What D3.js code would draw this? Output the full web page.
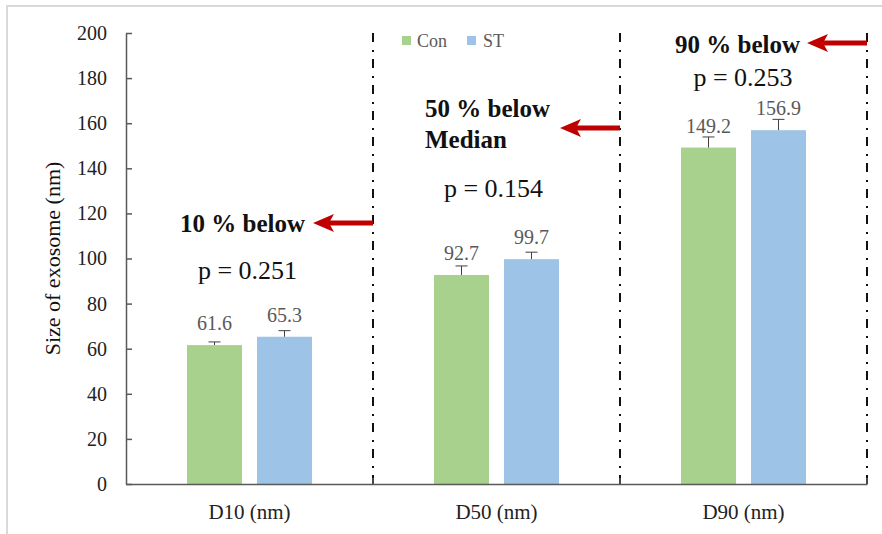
<!DOCTYPE html>
<html><head><meta charset="utf-8">
<script src="https://cdn.jsdelivr.net/npm/d3@7"></script>
<style>body{margin:0;background:#fff}svg{display:block}svg text{font-family:'Liberation Serif','Times New Roman',serif}</style>
</head><body>
<svg id="c" width="882" height="534"></svg>
<script>
const categories = ["D10 (nm)", "D50 (nm)", "D90 (nm)"];
const seriesNames = ["Con", "ST"];
const conValues = [61.6, 92.7, 149.2];
const stValues = [65.3, 99.7, 156.9];
const conErrors = [1.4, 4.0, 4.7];
const stErrors = [2.7, 3.1, 4.8];
const yTicks = [0, 20, 40, 60, 80, 100, 120, 140, 160, 180, 200];
const pValues = ["p = 0.251", "p = 0.154", "p = 0.253"];
const annotations = [["10 % below"], ["50 % below", "Median"], ["90 % below"]];

const colors = ["#a9d18e", "#9dc3e6"];
const svg = d3.select("#c");
const serif = "'Liberation Serif','Times New Roman',serif";

// frame
svg.append("path").attr("d", "M7,534 V6 H882").attr("fill", "none").attr("stroke", "#d9d9d9").attr("stroke-width", 2);

const L = 126, R = 867, T = 33, B = 484;
const y = d3.scaleLinear().domain([0, 200]).range([B, T]);
const x = d3.scaleBand().domain(categories).range([L, R]).paddingInner(0).paddingOuter(0);
const xs = d3.scaleBand().domain(seriesNames).range([61, 186]).paddingInner(0.214);

const g = svg.append("g");

// dividers
categories.forEach((c, i) => {
  const xv = x(c) + x.bandwidth();
  g.append("line").attr("x1", xv).attr("x2", xv).attr("y1", T).attr("y2", B)
    .attr("stroke", "#111").attr("stroke-width", 2).attr("stroke-dasharray", "9,8,2,7");
});

// bars
const series = [conValues, stValues];
const errs = [conErrors, stErrors];
series.forEach((vals, si) => {
  const sx = (c) => x(c) + xs(seriesNames[si]);
  g.selectAll(null).data(categories).enter().append("rect")
    .attr("x", c => sx(c)).attr("width", xs.bandwidth())
    .attr("y", (c, i) => y(vals[i])).attr("height", (c, i) => B - y(vals[i]))
    .attr("fill", colors[si]);
  categories.forEach((c, i) => {
    const cx = sx(c) + xs.bandwidth() / 2;
    const top = y(vals[i] + errs[si][i]);
    g.append("line").attr("x1", cx).attr("x2", cx).attr("y1", y(vals[i])).attr("y2", top).attr("stroke", "#404040").attr("stroke-width", 1);
    g.append("line").attr("x1", cx - 6).attr("x2", cx + 6).attr("y1", top).attr("y2", top).attr("stroke", "#404040").attr("stroke-width", 1);
    g.append("text").attr("x", cx).attr("y", y(vals[i]) - 15).attr("text-anchor", "middle")
      .style("font-family", serif).style("font-size", "20px").attr("fill", "#595959").text(vals[i].toFixed(1));
  });
});

// y axis
const yAxis = d3.axisLeft(y).tickValues(yTicks).tickSizeInner(-6).tickSizeOuter(0).tickPadding(19);
const ya = svg.append("g").attr("transform", `translate(${L},0)`).call(yAxis);
ya.select(".domain").attr("stroke", "#595959").attr("stroke-width", 1.5);
ya.selectAll(".tick line").attr("stroke", "#595959").attr("stroke-width", 1.5);
ya.selectAll(".tick text").style("font-family", serif).style("font-size", "20px").attr("fill", "#222");

// x axis
const xAxis = d3.axisBottom(x).tickSize(0).tickPadding(20);
const xa = svg.append("g").attr("transform", `translate(0,${B})`).call(xAxis);
xa.select(".domain").attr("stroke", "#595959").attr("stroke-width", 1.5);
xa.selectAll(".tick text").style("font-family", serif).style("font-size", "21px").attr("fill", "#222").attr("dy", "0.71em");
categories.forEach(c => {
  const xv = x(c) + x.bandwidth();
  svg.append("line").attr("x1", xv).attr("x2", xv).attr("y1", B).attr("y2", B - 6).attr("stroke", "#595959").attr("stroke-width", 1.5);
});

// y title
svg.append("text").attr("transform", `translate(60,${(T + B) / 2}) rotate(-90)`).attr("text-anchor", "middle")
  .style("font-family", serif).style("font-size", "22px").attr("fill", "#111").text("Size of exosome (nm)");

// legend
const leg = [[402, 417], [467, 483]];
seriesNames.forEach((s, i) => {
  svg.append("rect").attr("x", leg[i][0]).attr("y", 36).attr("width", 9).attr("height", 9).attr("fill", colors[i]);
  svg.append("text").attr("x", leg[i][1]).attr("y", 47).style("font-family", serif).style("font-size", "18px").attr("fill", "#595959").text(s);
});

// annotations
const annX = [180, 425, 675];
const annY = [232, 117, 53];
const pX = [247.5, 493.5, 743];
const pY = [279, 197, 86];
const arrow = [[313, 223], [560, 128], [807, 43]];
annotations.forEach((lines, i) => {
  lines.forEach((t, j) => {
    svg.append("text").attr("x", annX[i]).attr("y", annY[i] + j * 31).style("font-family", serif)
      .style("font-weight", "bold").style("font-size", "25px").attr("fill", "#111").text(t);
  });
  svg.append("text").attr("x", pX[i]).attr("y", pY[i]).attr("text-anchor", "middle").style("font-family", serif)
    .style("font-size", "26px").attr("fill", "#111").text(pValues[i]);
  const xe = x(categories[i]) + x.bandwidth();
  const [tx, ty] = arrow[i];
  svg.append("line").attr("x1", tx + 15).attr("x2", xe).attr("y1", ty).attr("y2", ty).attr("stroke", "#c00000").attr("stroke-width", 5);
  svg.append("path").attr("d", `M${tx},${ty} L${tx + 21},${ty - 9} L${tx + 16},${ty} L${tx + 21},${ty + 9} Z`).attr("fill", "#c00000");
});
</script>
</body></html>
